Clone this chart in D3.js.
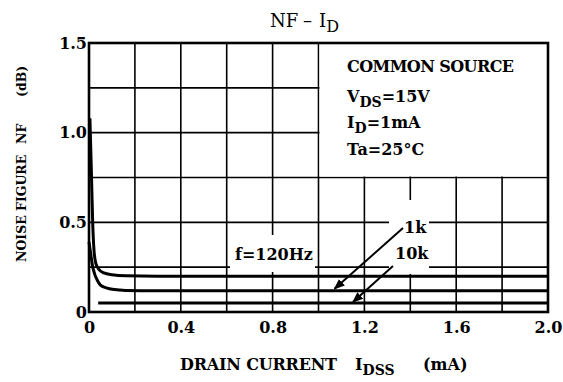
<!DOCTYPE html>
<html>
<head>
<meta charset="utf-8">
<script src="https://cdn.jsdelivr.net/npm/d3@7/dist/d3.min.js"></script>
<style>
  body { margin: 0; background: #fff; }
  svg text { font-family: "DejaVu Serif", "Liberation Serif", serif; fill: #000; }
</style>
</head>
<body>
<svg id="chart" width="563" height="382"></svg>
<script>
// Axis ticks and grid
const xTicks = [0, 0.4, 0.8, 1.2, 1.6, 2.0];
const xTickLabels = ["0", "0.4", "0.8", "1.2", "1.6", "2.0"];
const yTicks = [0, 0.5, 1.0, 1.5];
const yTickLabels = ["0", "0.5", "1.0", "1.5"];
const xGrid = [0.2, 0.4, 0.6, 0.8, 1.0, 1.2, 1.4, 1.6, 1.8];
const yGrid = [0.25, 0.5, 0.75, 1.0, 1.25];

// Noise figure vs drain current, one curve per frequency
const seriesNames = ["f=120Hz", "1k", "10k"];
const id120 = [0.004, 0.010, 0.016, 0.022, 0.030, 0.045, 0.065, 0.10, 0.16, 0.30, 2.0];
const nf120 = [1.08, 0.80, 0.50, 0.34, 0.27, 0.235, 0.218, 0.208, 0.202, 0.20, 0.20];
const id1k = [0.0, 0.008, 0.015, 0.025, 0.035, 0.05, 0.075, 0.11, 0.16, 0.30, 2.0];
const nf1k = [0.39, 0.32, 0.26, 0.21, 0.18, 0.15, 0.135, 0.125, 0.12, 0.118, 0.118];
const id10k = [0.04, 2.0];
const nf10k = [0.05, 0.05];

const svg = d3.select("#chart");
const x = d3.scaleLinear().domain([0, 2.0]).range([89, 548]);
const y = d3.scaleLinear().domain([0, 1.5]).range([312, 43]);

// Grid
const grid = svg.append("g").attr("stroke", "#000").attr("stroke-width", 1.6);
grid.selectAll("line.v").data(xGrid).join("line")
  .attr("x1", d => x(d)).attr("x2", d => x(d))
  .attr("y1", y(0)).attr("y2", y(1.5));
grid.selectAll("line.h").data(yGrid).join("line")
  .attr("x1", x(0)).attr("x2", x(2.0))
  .attr("y1", d => y(d)).attr("y2", d => y(d));

// Conditions box (upper right) and label backgrounds clear the grid
svg.append("rect")
  .attr("x", x(1.0) + 1).attr("y", y(1.5))
  .attr("width", x(2.0) - x(1.0) - 2).attr("height", y(0.75) - y(1.5) - 1)
  .attr("fill", "#fff");
svg.append("rect").attr("x", 230).attr("y", 235).attr("width", 85).attr("height", 37).attr("fill", "#fff");
svg.append("rect").attr("x", 389).attr("y", 200).attr("width", 40).attr("height", 74).attr("fill", "#fff");

// Frame
svg.append("rect")
  .attr("x", x(0)).attr("y", y(1.5))
  .attr("width", x(2.0) - x(0)).attr("height", y(0) - y(1.5))
  .attr("fill", "none").attr("stroke", "#000").attr("stroke-width", 2.6);

// Axes
const xAxis = svg.append("g").attr("transform", `translate(0,${y(0)})`)
  .call(d3.axisBottom(x).tickValues(xTicks).tickSize(0).tickPadding(10)
    .tickFormat((d, i) => xTickLabels[i]));
const yAxis = svg.append("g").attr("transform", `translate(${x(0)},0)`)
  .call(d3.axisLeft(y).tickValues(yTicks).tickSize(0).tickPadding(2)
    .tickFormat((d, i) => yTickLabels[i]));
[xAxis, yAxis].forEach(a => {
  a.select(".domain").remove();
  a.selectAll("text").attr("font-family", "DejaVu Serif").attr("font-size", 16)
    .attr("font-weight", "bold").attr("fill", "#000");
});

// Curves
const line = d3.line().x(d => x(d[0])).y(d => y(d[1])).curve(d3.curveMonotoneX);
const series = [d3.zip(id120, nf120), d3.zip(id1k, nf1k), d3.zip(id10k, nf10k)];
svg.append("g").selectAll("path").data(series).join("path")
  .attr("d", line).attr("fill", "none").attr("stroke", "#000")
  .attr("stroke-width", 3).attr("stroke-linejoin", "round");

// Arrow markers
svg.append("defs").append("marker")
  .attr("id", "head").attr("viewBox", "0 0 10 10").attr("refX", 9).attr("refY", 5)
  .attr("markerWidth", 11).attr("markerHeight", 11).attr("markerUnits", "userSpaceOnUse")
  .attr("orient", "auto")
  .append("path").attr("d", "M0,1 L10,5 L0,9 Z").attr("fill", "#000");

// Curve labels
const lab = svg.append("g").attr("font-weight", "bold").attr("font-size", 16);
lab.append("text").attr("x", 235).attr("y", 260).text(seriesNames[0]);
lab.append("text").attr("x", 404).attr("y", 233).text(seriesNames[1]);
lab.append("text").attr("x", 395).attr("y", 259).text(seriesNames[2]);
svg.append("line").attr("x1", 403).attr("y1", 228).attr("x2", x(1.07)).attr("y2", y(nf1k[nf1k.length - 1]) - 2)
  .attr("stroke", "#000").attr("stroke-width", 2).attr("marker-end", "url(#head)");
svg.append("line").attr("x1", 393).attr("y1", 266).attr("x2", x(1.15)).attr("y2", y(nf10k[1]) - 1)
  .attr("stroke", "#000").attr("stroke-width", 2).attr("marker-end", "url(#head)");

// Measurement conditions
const cond = svg.append("g").attr("font-weight", "bold").attr("font-size", 16);
cond.append("text").attr("x", 347).attr("y", 72).attr("textLength", 167).text("COMMON SOURCE");
const vds = cond.append("text").attr("x", 347).attr("y", 102);
vds.append("tspan").text("V");
vds.append("tspan").attr("dy", 5).attr("font-size", 14).text("DS");
vds.append("tspan").attr("dy", -5).text("=15V");
const idt = cond.append("text").attr("x", 347).attr("y", 128);
idt.append("tspan").text("I");
idt.append("tspan").attr("dy", 5).attr("font-size", 14).text("D");
idt.append("tspan").attr("dy", -5).text("=1mA");
cond.append("text").attr("x", 347).attr("y", 155).text("Ta=25°C");

// Title
const title = svg.append("g").attr("font-size", 18);
title.append("text").attr("x", 270).attr("y", 27).text("NF");
title.append("text").attr("x", 303).attr("y", 27).text("–");
const tI = title.append("text").attr("x", 319).attr("y", 27);
tI.append("tspan").text("I");
tI.append("tspan").attr("dy", 5).attr("font-size", 16).text("D");

// Axis titles
const xl = svg.append("g").attr("font-weight", "bold").attr("font-size", 16);
xl.append("text").attr("x", 180).attr("y", 370).attr("textLength", 157).text("DRAIN CURRENT");
const idss = xl.append("text").attr("x", 355).attr("y", 370);
idss.append("tspan").text("I");
idss.append("tspan").attr("dy", 5).attr("font-size", 14).text("DSS");
xl.append("text").attr("x", 423).attr("y", 370).text("(mA)");

const yl = svg.append("g").attr("font-weight", "bold").attr("font-size", 12.5);
yl.append("text").attr("transform", "translate(26,262) rotate(-90)").text("NOISE FIGURE");
yl.append("text").attr("transform", "translate(26,144) rotate(-90)").text("NF");
yl.append("text").attr("transform", "translate(26,97) rotate(-90)").text("(dB)");
</script>
</body>
</html>
